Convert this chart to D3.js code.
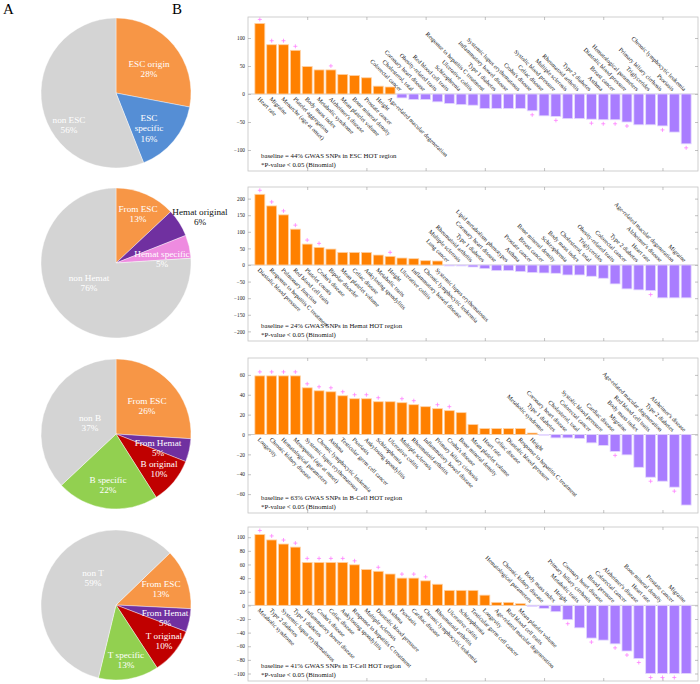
<!DOCTYPE html>
<html>
<head>
<meta charset="utf-8">
<script src="https://cdn.jsdelivr.net/npm/d3@7"></script>
<style>
  body { margin: 0; background: #fff; }
  svg { display: block; font-family: "Liberation Serif", "Times New Roman", serif; }
</style>
</head>
<body>
<svg id="fig" width="700" height="684"></svg>
<script>
// ---- pie data (panel A) ----
const escPieLabels = ["ESC origin", "ESC specific", "non ESC"];
const escPieValues = [28, 16, 56];
const hematPieLabels = ["From ESC", "Hemat original", "Hemat specific", "non Hemat"];
const hematPieValues = [13, 6, 5, 76];
const bPieLabels = ["From ESC", "From Hemat", "B original", "B specific", "non B"];
const bPieValues = [26, 5, 10, 22, 37];
const tPieLabels = ["From ESC", "From Hemat", "T original", "T specific", "non T"];
const tPieValues = [13, 5, 10, 13, 59];

// ---- bar data (panel B) ----
const escTraits = ["Heart rate", "Migraine", "Menarche (age at onset)", "Platelet aggregation", "Body mass index",
  "Metabolic syndrome", "Alzheimer's disease", "Mean platelet volume", "Bone mineral density", "Prostate cancer",
  "Height", "Age-related macular degeneration",
  "Colorectal cancer", "Cholesterol, total", "Coronary heart disease", "Obesity-related traits", "Red blood cell traits",
  "Schizophrenia", "Ulcerative colitis", "Response to hepatitis C treatment", "Type 1 diabetes", "Inflammatory bowel disease",
  "Systemic lupus erythematosus", "Crohn's disease", "Celiac disease", "Systolic blood pressure", "Multiple sclerosis",
  "Rheumatoid arthritis", "Type 2 diabetes", "Asthma", "Breast cancer", "Diastolic blood pressure",
  "Hematological parameters", "Triglycerides", "Primary biliary cirrhosis", "Psoriasis", "Chronic lymphocytic leukemia"];
const escValues = [126, 88, 88, 78, 49, 43, 43, 35, 33, 29, 14, 12.5,
  -7, -10, -10, -14, -17, -19, -20, -26, -26, -26, -26, -30, -39, -40, -44, -44, -45, -46, -46, -50, -55, -55, -57, -68, -89];
const escSig = [0, 1, 2, 3, 6, 23, 25, 28, 29, 30, 31, 34, 36];

const hematTraits = ["Diastolic blood pressure", "Response to hepatitis C treatment", "Pulmonary function", "Red blood cell traits",
  "Platelet counts", "Crohn's disease", "Bipolar disorder", "Mean platelet volume", "Celiac disease", "Ankylosing spondylitis",
  "Metabolic traits", "Height", "Ulcerative colitis", "Inflammatory bowel disease", "Chronic lymphocytic leukemia",
  "Systemic lupus erythematosus",
  "Lung cancer", "Multiple sclerosis", "Rheumatoid arthritis", "Type 1 diabetes", "Coronary heart disease",
  "Lipid metabolism phenotypes", "Asthma", "Prostate cancer", "Breast cancer", "Bone mineral density", "Schizophrenia",
  "Body mass index", "Cholesterol, total", "Triglycerides", "Obesity-related traits", "Colorectal cancer",
  "Type 2 diabetes", "Heart rate", "Alzheimer's disease", "Age-related macular degeneration", "Migraine"];
const hematValues = [213, 178, 151, 108, 63, 53, 48, 38, 38, 38, 30, 26, 21, 19, 13, 12,
  -3, -3, -6, -11, -17, -17, -20, -23, -24, -25, -30, -30, -34, -40, -57, -72, -75, -77, -99, -99, -99];
const hematSig = [0, 1, 2, 3, 4, 5, 11, 33];

const bTraits = ["Longevity", "Chronic kidney disease", "Hematological parameters", "Menopause (age at onset)",
  "Systemic lupus erythematosus", "Chronic lymphocytic leukemia", "Asthma", "Testicular germ cell cancer", "Psoriasis",
  "Ankylosing spondylitis", "Schizophrenia", "Ulcerative colitis", "Multiple sclerosis", "Rheumatoid arthritis",
  "Inflammatory bowel disease", "Primary biliary cirrhosis", "Crohn's disease", "Bone mineral density",
  "Mean platelet volume", "Heart rate", "Celiac disease", "Diastolic blood pressure", "Response to hepatitis C treatment",
  "Height",
  "Metabolic syndrome", "Type 1 diabetes", "Coronary heart disease", "Cholesterol, total", "Colorectal cancer",
  "Systolic blood pressure", "Cardiac disease", "Migraine", "Body mass index", "Red blood cell traits",
  "Age-related macular degeneration", "Type 2 diabetes", "Alzheimer's disease"];
const bValues = [59, 59, 59, 59, 47, 44, 43, 39, 36, 36, 33, 33, 32, 30, 28, 26, 24, 22, 10, 6, 6, 6, 6, 1.5,
  -0.7, -3.4, -3.4, -4, -8.4, -11, -17, -20.5, -33, -43, -47, -53, -71];
const bSig = [0, 1, 2, 3, 4, 5, 6, 7, 8, 9, 10, 12, 13, 15, 16, 30, 33, 35];

const tTraits = ["Metabolic syndrome", "Type 2 diabetes", "Systemic lupus erythematosus", "Type 1 diabetes",
  "Inflammatory bowel disease", "Crohn's disease", "Celiac disease", "Ankylosing spondylitis",
  "Response to hepatitis C treatment", "Multiple sclerosis", "Diastolic blood pressure", "Asthma", "Psoriasis",
  "Cardiac disease", "Chronic lymphocytic leukemia", "Rheumatoid arthritis", "Ulcerative colitis", "Schizophrenia",
  "Testicular germ cell cancer", "Longevity", "Age-related macular degeneration", "Red blood cell traits",
  "Mean platelet volume",
  "Hematological parameters", "Chronic kidney disease", "Body mass index", "Height", "Metabolic traits",
  "Primary biliary cirrhosis", "Coronary heart disease", "Blood pressure", "Colorectal cancer", "Alzheimer's disease",
  "Heart rate", "Bone mineral density", "Prostate cancer", "Migraine"];
const tValues = [104, 96, 90, 85.5, 63, 63, 63, 63, 59.5, 52.6, 50, 46, 40, 40, 36, 31, 22, 22, 22, 15, 4.4, 4.4, 2.5,
  -1.5, -4.4, -9.3, -21, -33, -48, -51, -56.5, -67, -78, -100, -100, -100, -100];
const tSig = [0, 1, 2, 3, 4, 5, 6, 7, 8, 10, 12, 13, 14, 26, 28, 30, 31, 32, 33, 34, 35];

const svg = d3.select("#fig");

svg.append("text").attr("x", 3).attr("y", 14).attr("font-size", 15).text("A");
svg.append("text").attr("x", 172).attr("y", 14).attr("font-size", 15).text("B");

// ---------- pies ----------
const orange = "#f79646", grey = "#d4d4d4", blue = "#558ed5", purple = "#7030a0",
  pink = "#ee8be0", red = "#c00000", green = "#92d050";

function drawPie(cfg) {
  const g = svg.append("g").attr("transform", `translate(${cfg.cx},${cfg.cy})`);
  const a0 = cfg.start * Math.PI / 180;
  const pie = d3.pie().sort(null).startAngle(a0).endAngle(a0 + 2 * Math.PI);
  const arc = d3.arc().innerRadius(0).outerRadius(75);
  const arcs = pie(cfg.values);

  g.selectAll("path")
    .data(arcs)
    .enter()
    .append("path")
    .attr("d", arc)
    .attr("fill", (d, i) => cfg.colors[i])
    .attr("stroke", "#fff")
    .attr("stroke-width", 0.4);

  // label blocks (name + percent), centred on a per-slice offset
  arcs.forEach((d, i) => {
    const lines = cfg.wrap[i] ? cfg.labels[i].split(" ") : [cfg.labels[i]];
    lines.push(cfg.values[i] + "%");
    const [ox, oy] = cfg.offsets[i];
    const lh = 10.5;
    const t = g.append("text")
      .attr("text-anchor", "middle")
      .attr("font-size", 9.2)
      .attr("fill", cfg.dark && cfg.dark[i] ? "#111" : "#fff");
    lines.forEach((s, k) => {
      t.append("tspan")
        .attr("x", ox)
        .attr("y", oy + (k - (lines.length - 1) / 2) * lh + 3.2)
        .text(s);
    });
  });
}

drawPie({ cx: 116, cy: 93, start: 0, values: escPieValues, labels: escPieLabels,
  colors: [orange, blue, grey], wrap: [false, true, false],
  offsets: [[33, -24], [33, 35], [-47, 32]] });
drawPie({ cx: 116, cy: 263, start: 0, values: hematPieValues, labels: hematPieLabels,
  colors: [orange, purple, pink, grey], wrap: [false, false, false, false], dark: [false, true, false, false],
  offsets: [[22, -49], [84, -46], [46, -4], [-27, 20]] });
drawPie({ cx: 116, cy: 434, start: 0, values: bPieValues, labels: bPieLabels,
  colors: [orange, purple, red, green, grey], wrap: [false, false, false, false, false],
  offsets: [[31, -28], [42, 14], [43, 35], [-8, 51], [-26, -11]] });
drawPie({ cx: 116, cy: 605, start: 46, values: tPieValues, labels: tPieLabels,
  colors: [orange, purple, red, green, grey], wrap: [false, false, false, false, false],
  offsets: [[45, -16], [49, 13], [48, 36], [10, 55], [-23, -27]] });

// ---------- bar panels ----------
function drawBars(cfg) {
  const x = d3.scaleLinear().domain([0, 38]).range([248, 698]);
  const y = d3.scaleLinear().domain(cfg.yDomain).range([cfg.bottom, cfg.top]);
  const g = svg.append("g");
  const bw = (x(1) - x(0)) * 0.84;

  g.append("rect")
    .attr("x", x(0)).attr("y", cfg.top)
    .attr("width", x(38) - x(0)).attr("height", cfg.bottom - cfg.top)
    .attr("fill", "none").attr("stroke", "#c4c4c4").attr("stroke-width", 0.8);

  const yl = g.append("g").attr("transform", `translate(${x(0)},0)`)
    .call(d3.axisLeft(y).tickValues(cfg.yTicks).tickSize(-3).tickPadding(3));
  const yr = g.append("g").attr("transform", `translate(${x(38)},0)`)
    .call(d3.axisRight(y).tickValues(cfg.yTicks).tickSize(-3).tickFormat(""));
  const xt = g.append("g").attr("transform", `translate(0,${cfg.top})`)
    .call(d3.axisTop(x).tickValues(d3.range(5, 38, 5)).tickSize(-3).tickFormat(""));
  const xb = g.append("g").attr("transform", `translate(0,${cfg.bottom})`)
    .call(d3.axisBottom(x).tickValues(d3.range(5, 38, 5)).tickSize(-3).tickFormat(""));
  [yl, yr, xt, xb].forEach(a => {
    a.select(".domain").remove();
    a.selectAll("line").attr("stroke", "#999").attr("stroke-width", 0.6);
  });
  yl.selectAll("text").attr("font-size", 5.3).attr("fill", "#222")
    .attr("font-family", "Liberation Serif, serif");

  g.append("line")
    .attr("x1", x(0)).attr("x2", x(38))
    .attr("y1", y(0)).attr("y2", y(0))
    .attr("stroke", "#bdbdbd").attr("stroke-width", 0.8);

  g.selectAll(".bar")
    .data(cfg.values)
    .enter()
    .append("rect")
    .attr("class", "bar")
    .attr("x", (d, i) => x(i + 1) - bw / 2)
    .attr("y", d => Math.min(y(d), y(0)))
    .attr("width", bw)
    .attr("height", d => Math.abs(y(d) - y(0)))
    .attr("fill", d => d >= 0 ? "#ff8000" : "#a97dff")
    .attr("stroke", d => d >= 0 ? "#ffd2a6" : "#e4d8ff")
    .attr("stroke-width", 0.8);

  g.selectAll(".lab")
    .data(cfg.values)
    .enter()
    .append("text")
    .attr("class", "lab")
    .attr("font-size", 6)
    .attr("fill", "#111")
    .attr("text-anchor", d => d >= 0 ? "start" : "end")
    .attr("transform", (d, i) => {
      const yy = d >= 0 ? y(0) + 4 : y(0) - 4;
      return `translate(${x(i + 1) - 1},${yy}) rotate(45)`;
    })
    .attr("dy", "0.35em")
    .text((d, i) => cfg.traits[i]);

  g.selectAll(".sig")
    .data(cfg.sig)
    .enter()
    .append("path")
    .attr("class", "sig")
    .attr("d", i => {
      const v = cfg.values[i];
      const cx = x(i + 1);
      const cy = v >= 0 ? y(v) - 4 : y(v) + 4;
      return `M${cx - 2},${cy}H${cx + 2}M${cx},${cy - 2}V${cy + 2}`;
    })
    .attr("stroke", "#ff80ff")
    .attr("stroke-width", 0.8)
    .attr("fill", "none");

  g.append("text").attr("x", 261).attr("y", cfg.bottom - 13)
    .attr("font-size", 6.8).attr("fill", "#111").text(cfg.note);
  g.append("text").attr("x", 261).attr("y", cfg.bottom - 4)
    .attr("font-size", 6.8).attr("fill", "#111").text("*P-value < 0.05 (Binomial)");
}

drawBars({ top: 17, bottom: 171, yDomain: [-137.5, 137.5], yTicks: [-100, -50, 0, 50, 100],
  values: escValues, traits: escTraits, sig: escSig,
  note: "baseline = 44% GWAS SNPs in ESC HOT region" });
drawBars({ top: 187, bottom: 341, yDomain: [-229, 235], yTicks: [-200, -150, -100, -50, 0, 50, 100, 150, 200],
  values: hematValues, traits: hematTraits, sig: hematSig,
  note: "baseline = 24% GWAS SNPs in Hemat HOT region" });
drawBars({ top: 358, bottom: 513, yDomain: [-79, 77], yTicks: [-60, -40, -20, 0, 20, 40, 60],
  values: bValues, traits: bTraits, sig: bSig,
  note: "baseline = 63% GWAS SNPs in B-Cell HOT region" });
drawBars({ top: 527, bottom: 681, yDomain: [-111, 115], yTicks: [-100, -80, -60, -40, -20, 0, 20, 40, 60, 80, 100],
  values: tValues, traits: tTraits, sig: tSig,
  note: "baseline = 41% GWAS SNPs in T-Cell HOT region" });
</script>
</body>
</html>
